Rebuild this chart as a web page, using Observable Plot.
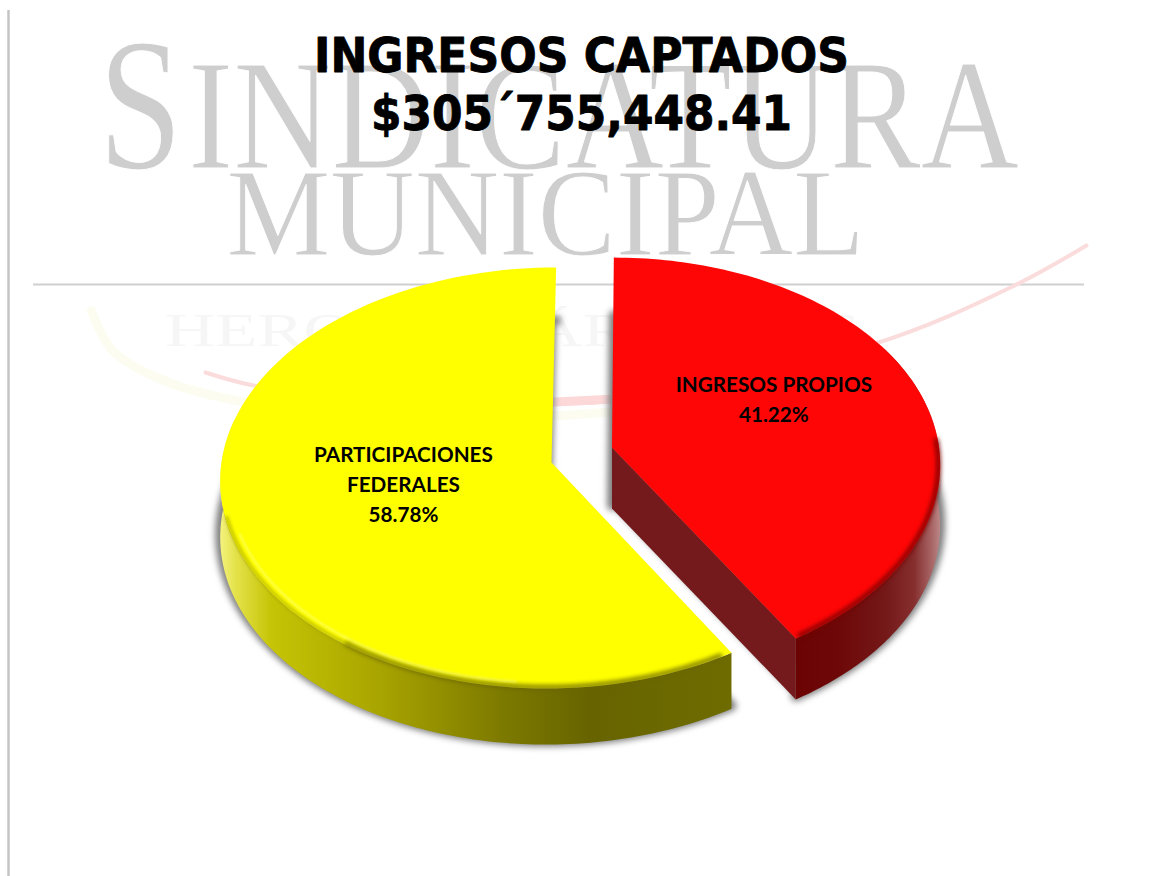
<!DOCTYPE html>
<html>
<head>
<meta charset="utf-8">
<script src="https://cdn.jsdelivr.net/npm/d3@7"></script>
<script src="https://cdn.jsdelivr.net/npm/@observablehq/plot@0.6"></script>
<style>
html,body{margin:0;padding:0;background:#fff;overflow:hidden}
svg{display:block}
</style>
</head>
<body>
<div id="chart"></div>
<script>
// ---- data -----
const categories = ["PARTICIPACIONES\nFEDERALES", "INGRESOS PROPIOS"];
const shares = [58.78, 41.22];
const titleLines = ["INGRESOS CAPTADOS", "$305´755,448.41"];
const watermarkTop = ["S", "INDICATURA"];
const watermarkMid = "MUNICIPAL";
const watermarkLow = "HEROICA CÁRDENAS";
const swooshRed = [[205,372],[253,385],[400,404],[560,403],[612,400],[875,343],[1010,287],[1086,245]];
const swooshBand = [[545,402],[625,398]];
const swooshPale = [[91,310],[112,350],[163,380],[246,402],[400,420],[560,415],[625,410]];

// ---- geometry of the tilted disc -----
const W = 1150, H = 876;
const disc = {
  yellow: {cx: 551, cy: 462, a: 330, b: 209.4, k: 0.0736, depth: 56, shear: 5},
  red:    {cx: 611.5, cy: 447, a: 327, b: 207, k: 0.09,   depth: 61, shear: 2}
};
const redSweep = shares[1] / 100 * 360;
const project = (d, deg, r = 1, drop = 0) => {
  const t = deg * Math.PI / 180, u = Math.sin(t) * r, v = Math.cos(t) * r, w = 1 + d.k * v;
  return [d.cx + (d.a * u + d.shear * v) / w, d.cy - d.b * v / w + drop];
};
const arc = (d, from, to, r = 1, drop = 0) => d3.range(0, 121).map(i => project(d, from + (to - from) * i / 120, r, drop));
const apex = (d, drop = 0) => [d.cx, d.cy + drop];
const sector = (d, from, to, drop = 0) => [apex(d, drop), ...arc(d, from, to, 1, drop)];
const wall = (d, from, to) => [...arc(d, from, to), ...arc(d, from, to, 1, d.depth).reverse()];

const P = {x: p => p[0], y: p => p[1]};
const Y = disc.yellow, R = disc.red;

const gradients = () => {
  const defs = d3.create("svg:defs");
  const grad = (id, stops) => defs.append("linearGradient").attr("id", id)
    .selectAll("stop").data(stops).join("stop")
    .attr("offset", s => s[0]).attr("stop-color", s => s[1]);
  grad("yellowWall", [[0,"#f4f27e"],[0.03,"#e4e24a"],[0.1,"#c6c405"],[0.3,"#aaa600"],[0.55,"#7d7a00"],[0.72,"#676400"],[1,"#6e6c00"]]);
  grad("redWall", [[0,"#6b0303"],[0.3,"#6e0808"],[0.62,"#741818"],[0.82,"#862e2e"],[0.95,"#ab6a6a"],[1,"#bb8888"]]);
  return defs.node();
};

const centerLabel = (d, from, to, r, dy, text) => {
  const p = project(d, (from + to) / 2, r);
  return {x: p[0], y: p[1] + dy, text};
};
const labels = [
  centerLabel(Y, redSweep, 360, 0.46, -7, `${categories[0]}\n${shares[0].toFixed(2)}%`),
  centerLabel(R, 0, redSweep, 0.52, -21, `${categories[1]}\n${shares[1].toFixed(2)}%`)
];

const poly = (pts, o) => Plot.line(pts, {...P, curve: "linear", stroke: "none", ...o});
const word = (text, x, y, o) => Plot.text([text], {x: () => x, y: () => y, text: d => d, lineAnchor: "bottom", ...o});
const serif = {fontFamily: "Liberation Serif", fill: "#cecece", stroke: "#fff", strokeWidth: 1, paintOrder: "normal"};
const shadow = {fill: "#808080", stroke: "#808080", strokeWidth: 10, strokeLinejoin: "round", imageFilter: "blur(3px)"};
const heading = {fontFamily: "DejaVu Sans", fontWeight: "bold", fontSize: 48, fill: "#000", stroke: "#000", strokeWidth: 0.9};

const plot = Plot.plot({
  width: W, height: H, margin: 0,
  x: {domain: [0, W], range: [0, W], axis: null},
  y: {domain: [0, H], range: [0, H], axis: null},
  marks: [
    gradients,
    // page edge and watermark
    Plot.ruleX([8], {y1: 10, y2: H, stroke: "#c4c4c4", strokeWidth: 2.5, imageFilter: "blur(0.7px)"}),
    word(watermarkTop[0], 140, 167, {...serif, fontSize: 188}),
    word(watermarkTop[1], 603, 167, {...serif, fontSize: 157}),
    word(watermarkMid, 545, 254, {...serif, fontSize: 125}),
    Plot.ruleY([284], {x1: 33, x2: 1084, stroke: "#cfcfcf", strokeWidth: 2}),
    word(watermarkLow, 512, 345, {fontFamily: "Liberation Serif", fill: "#f6f6f6", fontSize: 46}),
    Plot.line(swooshPale, {...P, curve: "catmull-rom", stroke: "#fcfdf0", strokeWidth: 9}),
    Plot.line(swooshRed, {...P, curve: "catmull-rom", stroke: "#fbdcdc", strokeWidth: 4}),
    Plot.line(swooshBand, {...P, stroke: "#fcd8d8", strokeWidth: 9}),
    // title
    word(titleLines[0], 581, 71, heading),
    word(titleLines[1], 581, 129, heading),
    // cast shadows
    poly(sector(Y, redSweep, 360, Y.depth - 3), shadow),
    poly(sector(R, 0, redSweep, R.depth - 3), shadow),
    // yellow slice
    poly(wall(Y, redSweep, 282), {fill: "url(#yellowWall)"}),
    poly(sector(Y, redSweep, 360), {fill: "#ffff00"}),
    Plot.line(arc(Y, redSweep + 2, 215, 0.995), {...P, stroke: "#6a6700", strokeWidth: 5, strokeOpacity: 0.8, imageFilter: "blur(2px)"}),
    Plot.line(arc(Y, 215, 255, 0.995), {...P, stroke: "#9a9800", strokeWidth: 4, strokeOpacity: 0.5, imageFilter: "blur(1.6px)"}),
    Plot.line(arc(Y, 185, 250, 0.975), {...P, stroke: "#fffff0", strokeWidth: 1.2, strokeOpacity: 0.55, imageFilter: "blur(0.8px)"}),
    // red slice
    poly(wall(R, 60, redSweep), {fill: "url(#redWall)"}),
    poly([apex(R), project(R, redSweep), project(R, redSweep, 1, R.depth), apex(R, R.depth)], {fill: "#751a1c"}),
    poly(sector(R, 0, redSweep), {fill: "#ff0606"}),
    Plot.line(arc(R, 88, redSweep - 1, 0.995), {...P, stroke: "#780000", strokeWidth: 5, strokeOpacity: 0.85, imageFilter: "blur(2px)"}),
    // labels
    Plot.text(labels, {x: "x", y: "y", text: "text", fontFamily: "Lato", fontWeight: "bold", fontSize: 20.7, lineHeight: 1.45, fill: "#000"})
  ]
});

const fit = (content, len) => d3.select(plot).selectAll("text")
  .filter(function () { return this.textContent === content; })
  .attr("textLength", len).attr("lengthAdjust", "spacingAndGlyphs");
fit(watermarkTop[0], 84); fit(watermarkTop[1], 831); fit(watermarkMid, 638); fit(watermarkLow, 695);
fit(titleLines[0], 535); fit(titleLines[1], 421);
document.getElementById("chart").append(plot);
</script>
</body>
</html>
